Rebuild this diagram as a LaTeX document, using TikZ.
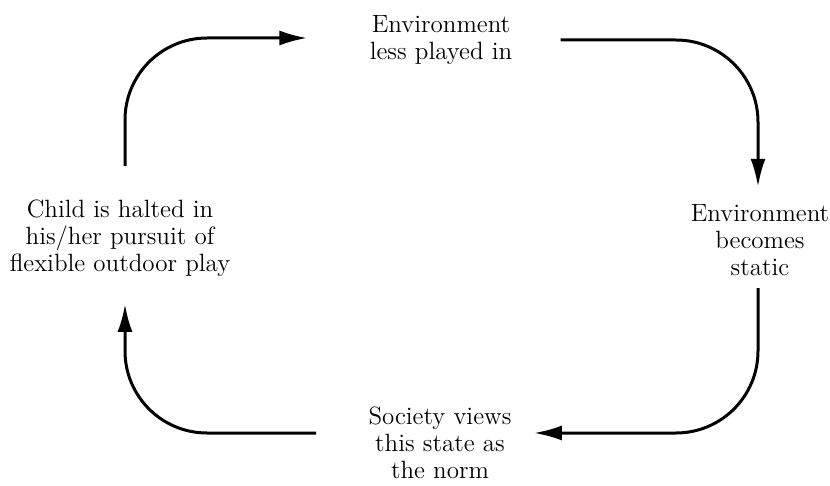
\documentclass[tikz,border=0pt]{standalone}
\usetikzlibrary{arrows.meta}

\begin{document}
\begin{tikzpicture}[x=0.5pt, y=-0.5pt,
    stage/.style={align=center, inner sep=0pt, font=\fontsize{12.5}{13.6}\selectfont},
    flow/.style={line width=1.5pt, rounded corners=41pt, -{Latex[length=14pt, width=7.5pt]}}]
  \useasboundingbox (0,0) rectangle (830,486);

  % Stages of the cycle
  \node[stage] (env1) at (441,40) {Environment\\less played in};
  \node[stage] (env2) at (760,240) {Environment\\becomes\\static};
  \node[stage] (soc) at (440,443) {Society views\\this state as\\the norm};
  \node[stage] (child) at (120,238) {Child is halted in\\his/her pursuit of\\flexible outdoor play};

  % Arrows round the cycle
  \draw[flow, shorten <=16.5pt, shorten >=31pt]
     ([xshift=2.5pt]child.north) |- ([yshift=1pt]env1.west);
  \draw[flow, shorten <=24pt, shorten >=8.5pt]
     (env1.east) -| ([xshift=-1pt]env2.north);
  \draw[flow, shorten <=6pt, shorten >=11pt]
     ([xshift=-1pt]env2.south) |- ([yshift=5pt]soc.east);
  \draw[flow, shorten <=26pt, shorten >=13.5pt]
     ([yshift=5pt]soc.west) -| ([xshift=2.5pt]child.south);
\end{tikzpicture}
\end{document}
